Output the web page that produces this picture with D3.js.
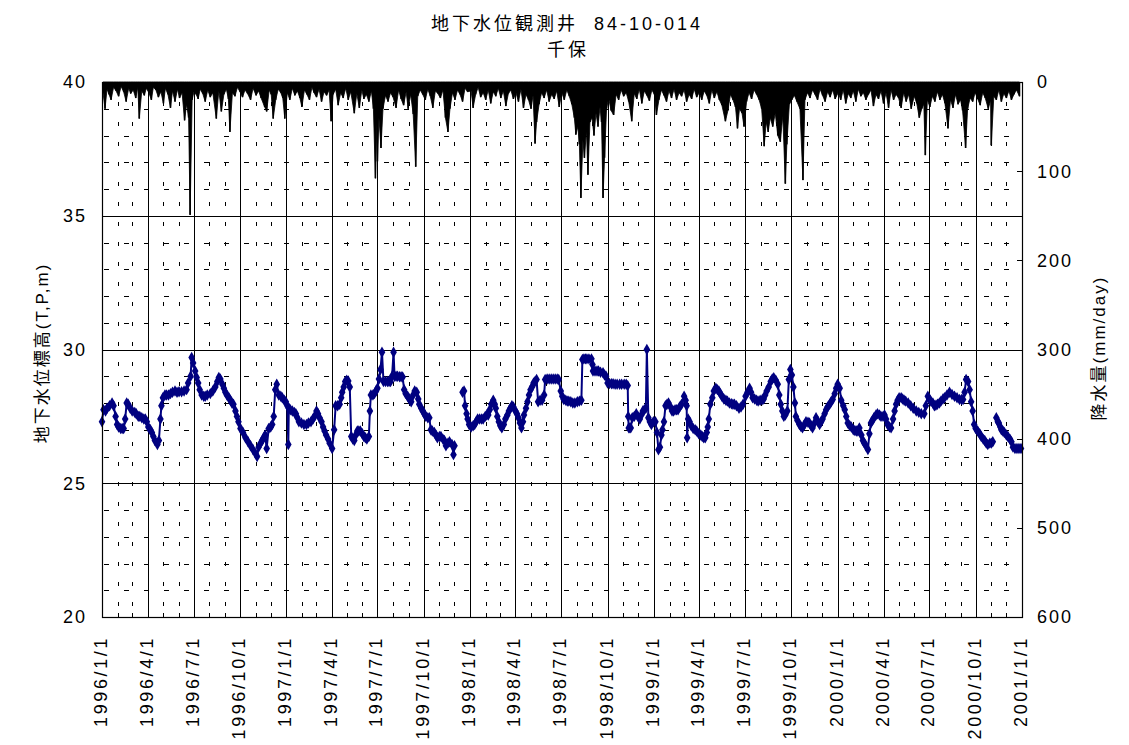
<!DOCTYPE html>
<html>
<head>
<meta charset="utf-8">
<script src="https://cdn.jsdelivr.net/npm/d3@7"></script>
<style>
body { margin: 0; background: #fff; }
svg text { font-family: "Liberation Sans", "Noto Sans CJK JP", sans-serif; fill: #000; }
</style>
</head>
<body>
<svg id="chart" width="1129" height="745"></svg>
<script>
// chart titles
var titleLine1 = "地下水位観測井  84-10-014";
var titleLine2 = "千保";
var leftTitle = "地下水位標高(T,P,m)";
var rightTitle = "降水量(mm/day)";

// axis ticks
var levelTicks = [20, 25, 30, 35, 40];
var rainTicks = [0, 100, 200, 300, 400, 500, 600];

// groundwater level (T.P. m); null = no record
var gw1996 = [
  ["1996-01-01",27.3],["1996-01-04",27.75],["1996-01-08",27.7],["1996-01-11",27.8],["1996-01-16",27.9],["1996-01-21",28.0],
  ["1996-01-24",27.9],["1996-01-28",27.5],["1996-01-31",27.2],["1996-02-03",27.1],["1996-02-07",27.05],["1996-02-10",27.05],
  ["1996-02-13",27.05],["1996-02-16",27.4],["1996-02-19",28.0],["1996-02-22",27.95],["1996-02-26",27.8],["1996-03-01",27.7],
  ["1996-03-06",27.65],["1996-03-09",27.6],["1996-03-13",27.5],["1996-03-16",27.5],["1996-03-20",27.45],["1996-03-24",27.4],
  ["1996-03-27",27.4],["1996-03-30",27.3],["1996-04-02",27.1],["1996-04-06",27.0],["1996-04-09",26.9],["1996-04-12",26.75],
  ["1996-04-15",26.6],["1996-04-20",26.45],["1996-04-23",26.6],["1996-04-26",27.4],["1996-04-28",27.9],["1996-05-01",28.2],
  ["1996-05-05",28.3],["1996-05-08",28.3],["1996-05-12",28.3],["1996-05-16",28.35],["1996-05-20",28.4],["1996-05-25",28.45],
  ["1996-05-29",28.4],["1996-06-02",28.42],["1996-06-07",28.42],["1996-06-12",28.45],["1996-06-17",28.5],["1996-06-20",28.75],
  ["1996-06-25",29.0],["1996-06-27",29.7],["1996-06-30",29.5],["1996-07-04",29.2],["1996-07-07",28.95],["1996-07-10",28.75],
  ["1996-07-13",28.5],["1996-07-17",28.3],["1996-07-21",28.25],["1996-07-24",28.25],["1996-07-28",28.3],["1996-08-03",28.35],
  ["1996-08-08",28.45],["1996-08-13",28.6],["1996-08-17",28.8],["1996-08-20",28.95],["1996-08-23",28.9],["1996-08-27",28.7],
  ["1996-08-30",28.55],["1996-09-02",28.4],["1996-09-05",28.3],["1996-09-09",28.2],["1996-09-12",28.1],["1996-09-15",28.0],
  ["1996-09-18",27.95],["1996-09-22",27.7],["1996-09-25",27.5],["1996-09-28",27.3],["1996-10-02",27.05],["1996-10-07",26.9],
  ["1996-10-12",26.7],["1996-10-17",26.55],["1996-10-22",26.4],["1996-10-27",26.25],["1996-11-01",26.1],["1996-11-04",26.0],
  ["1996-11-07",26.35],["1996-11-11",26.5],["1996-11-14",26.6],["1996-11-17",26.7],["1996-11-20",26.8],["1996-11-23",26.3],
  ["1996-11-27",27.05],["1996-12-01",27.1],["1996-12-04",27.2],["1996-12-07",27.5],["1996-12-10",28.5],["1996-12-13",28.7],
  ["1996-12-17",28.3],["1996-12-21",28.25],["1996-12-24",28.2],["1996-12-28",28.1],["1996-12-31",28.05]
];
var gw1997 = [
  ["1997-01-03",27.9],["1997-01-05",26.45],["1997-01-06",27.8],["1997-01-09",27.75],["1997-01-13",27.7],["1997-01-17",27.65],
  ["1997-01-20",27.6],["1997-01-23",27.45],["1997-01-26",27.3],["1997-01-31",27.25],["1997-02-05",27.2],["1997-02-10",27.2],
  ["1997-02-14",27.25],["1997-02-19",27.3],["1997-02-23",27.4],["1997-02-26",27.5],["1997-03-02",27.7],["1997-03-05",27.6],
  ["1997-03-08",27.45],["1997-03-12",27.3],["1997-03-15",27.1],["1997-03-18",26.95],["1997-03-21",26.8],["1997-03-25",26.65],
  ["1997-03-28",26.5],["1997-04-02",26.3],["1997-04-06",27.0],["1997-04-09",27.9],["1997-04-13",27.9],["1997-04-17",27.95],
  ["1997-04-20",28.2],["1997-04-22",28.4],["1997-04-25",28.6],["1997-04-28",28.8],["1997-05-01",28.85],["1997-05-04",28.82],
  ["1997-05-07",28.6],["1997-05-10",26.75],["1997-05-13",26.65],["1997-05-16",26.6],["1997-05-19",26.8],["1997-05-22",26.95],
  ["1997-05-25",26.95],["1997-05-28",26.95],["1997-06-01",26.85],["1997-06-04",26.75],["1997-06-07",26.7],["1997-06-10",26.65],
  ["1997-06-14",26.75],["1997-06-16",27.7],["1997-06-18",28.3],["1997-06-22",28.3],["1997-06-25",28.35],["1997-06-28",28.45],
  ["1997-07-01",28.55],["1997-07-04",28.9],["1997-07-07",29.25],["1997-07-10",29.9],["1997-07-13",28.8],["1997-07-17",28.8],
  ["1997-07-21",28.8],["1997-07-24",28.8],["1997-07-27",28.8],["1997-07-30",29.0],["1997-08-02",29.9],["1997-08-04",29.0],
  ["1997-08-07",29.0],["1997-08-10",29.0],["1997-08-14",28.98],["1997-08-17",28.98],["1997-08-20",28.97],["1997-08-23",28.5],
  ["1997-08-26",28.35],["1997-08-30",28.25],["1997-09-02",28.15],["1997-09-06",28.05],["1997-09-10",28.3],["1997-09-13",28.45],
  ["1997-09-17",28.4],["1997-09-20",28.15],["1997-09-22",27.95],["1997-09-26",27.8],["1997-09-29",27.7],["1997-10-02",27.6],
  ["1997-10-05",27.5],["1997-10-09",27.45],["1997-10-12",27.45],["1997-10-15",27.0],["1997-10-18",26.95],["1997-10-22",26.9],
  ["1997-10-25",26.8],["1997-10-28",26.7],["1997-11-01",26.75],["1997-11-04",26.75],["1997-11-08",26.65],["1997-11-11",26.6],
  ["1997-11-14",26.4],["1997-11-18",26.5],["1997-11-21",26.55],["1997-11-26",26.45],["1997-11-29",26.07],["1997-12-01",26.4],
  ["1997-12-09",null],
  ["1997-12-17",28.4],["1997-12-20",28.45],["1997-12-22",27.9],["1997-12-25",27.6],["1997-12-27",27.4],["1997-12-30",27.2]
];
var gw1998 = [
  ["1998-01-03",27.1],["1998-01-07",27.15],["1998-01-10",27.2],["1998-01-13",27.3],["1998-01-16",27.4],["1998-01-20",27.4],
  ["1998-01-24",27.4],["1998-01-27",27.4],["1998-01-31",27.5],["1998-02-03",27.55],["1998-02-06",27.55],["1998-02-09",27.75],
  ["1998-02-12",27.95],["1998-02-16",28.1],["1998-02-19",27.95],["1998-02-21",27.8],["1998-02-24",27.5],["1998-02-27",27.3],
  ["1998-03-02",27.15],["1998-03-05",27.07],["1998-03-09",27.2],["1998-03-12",27.4],["1998-03-16",27.55],["1998-03-19",27.7],
  ["1998-03-22",27.8],["1998-03-25",27.9],["1998-03-28",27.85],["1998-04-01",27.7],["1998-04-04",27.6],["1998-04-07",27.45],
  ["1998-04-10",27.25],["1998-04-13",27.07],["1998-04-16",27.3],["1998-04-18",27.55],["1998-04-22",27.8],["1998-04-25",28.05],
  ["1998-04-28",28.3],["1998-05-01",28.5],["1998-05-04",28.6],["1998-05-07",28.75],["1998-05-10",28.8],["1998-05-13",28.88],
  ["1998-05-16",28.05],["1998-05-20",28.1],["1998-05-24",28.1],["1998-05-28",28.3],["1998-05-30",28.88],["1998-06-03",28.9],
  ["1998-06-07",28.9],["1998-06-11",28.9],["1998-06-15",28.9],["1998-06-19",28.9],["1998-06-23",28.9],["1998-06-26",28.88],
  ["1998-06-30",28.45],["1998-07-03",28.25],["1998-07-06",28.13],["1998-07-10",28.1],["1998-07-13",28.07],["1998-07-16",28.07],
  ["1998-07-20",28.05],["1998-07-24",28.0],["1998-07-28",28.0],["1998-08-02",28.05],["1998-08-06",28.07],["1998-08-10",28.1],
  ["1998-08-12",29.63],["1998-08-15",29.65],["1998-08-18",29.65],["1998-08-21",29.65],["1998-08-25",29.65],["1998-08-30",29.65],
  ["1998-09-01",29.44],["1998-09-02",29.2],["1998-09-06",29.2],["1998-09-10",29.2],["1998-09-13",29.2],["1998-09-17",29.15],
  ["1998-09-22",29.13],["1998-09-25",29.05],["1998-09-28",29.0],["1998-10-01",28.75],["1998-10-05",28.73],["1998-10-09",28.72],
  ["1998-10-12",28.72],["1998-10-16",28.7],["1998-10-20",28.7],["1998-10-25",28.7],["1998-10-29",28.7],["1998-11-03",28.7],
  ["1998-11-07",28.7],["1998-11-10",28.65],["1998-11-11",27.5],["1998-11-12",27.07],["1998-11-14",27.07],["1998-11-16",27.07],
  ["1998-11-19",27.45],["1998-11-23",27.5],["1998-11-27",27.6],["1998-11-30",27.5],["1998-12-04",27.4],["1998-12-07",27.55],
  ["1998-12-10",27.7],["1998-12-13",27.75],["1998-12-16",27.8],["1998-12-18",30.0],["1998-12-21",27.45],["1998-12-24",27.3],
  ["1998-12-27",27.2],["1998-12-31",27.3]
];
var gw1999 = [
  ["1999-01-04",27.3],["1999-01-07",26.9],["1999-01-10",26.25],["1999-01-13",26.35],["1999-01-16",26.8],["1999-01-18",27.0],
  ["1999-01-21",27.3],["1999-01-24",27.9],["1999-01-27",27.95],["1999-01-30",28.0],["1999-02-03",27.85],["1999-02-06",27.7],
  ["1999-02-09",27.7],["1999-02-12",27.75],["1999-02-15",27.75],["1999-02-18",27.75],["1999-02-21",27.85],["1999-02-25",27.95],
  ["1999-03-02",28.25],["1999-03-05",28.1],["1999-03-07",27.9],["1999-03-08",26.7],["1999-03-10",27.4],["1999-03-13",27.3],
  ["1999-03-16",27.15],["1999-03-20",27.05],["1999-03-24",27.0],["1999-03-27",26.95],["1999-03-31",26.85],["1999-04-04",26.8],
  ["1999-04-07",26.75],["1999-04-10",26.7],["1999-04-13",26.7],["1999-04-16",26.9],["1999-04-18",27.1],["1999-04-20",27.4],
  ["1999-04-23",27.95],["1999-04-27",28.2],["1999-04-30",28.45],["1999-05-04",28.55],["1999-05-07",28.5],["1999-05-10",28.45],
  ["1999-05-13",28.35],["1999-05-16",28.25],["1999-05-20",28.15],["1999-05-24",28.1],["1999-05-27",28.07],["1999-05-31",28.0],
  ["1999-06-04",27.97],["1999-06-07",27.95],["1999-06-10",27.95],["1999-06-14",27.9],["1999-06-19",27.8],["1999-06-23",27.85],
  ["1999-06-27",27.95],["1999-07-02",28.25],["1999-07-06",28.4],["1999-07-10",28.55],["1999-07-13",28.4],["1999-07-16",28.2],
  ["1999-07-20",28.15],["1999-07-24",28.1],["1999-07-27",28.07],["1999-07-31",28.1],["1999-08-04",28.12],["1999-08-07",28.15],
  ["1999-08-10",28.3],["1999-08-13",28.45],["1999-08-17",28.6],["1999-08-21",28.8],["1999-08-24",28.9],["1999-08-27",28.94],
  ["1999-08-31",28.85],["1999-09-04",28.7],["1999-09-07",28.3],["1999-09-10",27.95],["1999-09-13",27.7],["1999-09-16",27.5],
  ["1999-09-19",27.55],["1999-09-23",27.7],["1999-09-26",28.88],["1999-09-29",29.25],["1999-10-02",29.05],["1999-10-05",28.6],
  ["1999-10-08",28.0],["1999-10-10",27.5],["1999-10-13",27.35],["1999-10-17",27.2],["1999-10-20",27.12],["1999-10-23",27.07],
  ["1999-10-27",27.2],["1999-10-30",27.3],["1999-11-03",27.28],["1999-11-06",27.25],["1999-11-09",27.15],["1999-11-12",27.07],
  ["1999-11-16",27.25],["1999-11-19",27.45],["1999-11-23",27.3],["1999-11-26",27.2],["1999-11-29",27.3],["1999-12-02",27.4],
  ["1999-12-06",27.6],["1999-12-09",27.75],["1999-12-12",27.85],["1999-12-16",27.95],["1999-12-19",28.05],["1999-12-22",28.13],
  ["1999-12-26",28.35],["1999-12-29",28.55]
];
var gw2000 = [
  ["2000-01-01",28.7],["2000-01-05",28.55],["2000-01-08",28.1],["2000-01-12",27.9],["2000-01-15",27.75],["2000-01-18",27.5],
  ["2000-01-21",27.25],["2000-01-25",27.15],["2000-01-28",27.1],["2000-02-01",27.0],["2000-02-04",26.97],["2000-02-07",26.95],
  ["2000-02-10",26.95],["2000-02-13",27.07],["2000-02-17",26.8],["2000-02-20",26.6],["2000-02-23",26.5],["2000-02-26",26.4],
  ["2000-03-01",26.26],["2000-03-04",26.85],["2000-03-07",27.25],["2000-03-10",27.35],["2000-03-13",27.45],["2000-03-17",27.55],
  ["2000-03-20",27.6],["2000-03-24",27.55],["2000-03-27",27.5],["2000-03-31",27.5],["2000-04-03",27.55],["2000-04-06",27.4],
  ["2000-04-09",27.2],["2000-04-13",27.1],["2000-04-16",27.07],["2000-04-20",27.4],["2000-04-23",27.7],["2000-04-26",27.95],
  ["2000-04-29",28.1],["2000-05-02",28.2],["2000-05-06",28.2],["2000-05-09",28.15],["2000-05-12",28.1],["2000-05-15",28.07],
  ["2000-05-20",28.0],["2000-05-25",27.9],["2000-05-30",27.8],["2000-06-05",27.7],["2000-06-10",27.65],["2000-06-15",27.6],
  ["2000-06-21",27.6],["2000-06-24",27.9],["2000-06-28",28.25],["2000-07-01",28.15],["2000-07-04",28.07],["2000-07-08",28.0],
  ["2000-07-11",27.9],["2000-07-14",27.92],["2000-07-17",27.95],["2000-07-21",28.0],["2000-07-24",28.07],["2000-07-28",28.15],
  ["2000-07-31",28.2],["2000-08-05",28.3],["2000-08-10",28.4],["2000-08-15",28.32],["2000-08-20",28.25],["2000-08-25",28.2],
  ["2000-08-30",28.13],["2000-09-03",28.13],["2000-09-06",28.13],["2000-09-09",28.4],["2000-09-12",28.88],["2000-09-16",28.8],
  ["2000-09-19",28.5],["2000-09-22",28.05],["2000-09-25",27.7],["2000-09-28",27.2],["2000-10-01",27.05],["2000-10-05",26.95],
  ["2000-10-09",26.85],["2000-10-12",26.75],["2000-10-16",26.65],["2000-10-19",26.6],["2000-10-22",26.5],["2000-10-25",26.45],
  ["2000-10-29",26.5],["2000-11-01",26.5],["2000-11-04",26.55],
  ["2000-11-08",null],
  ["2000-11-11",27.45],["2000-11-14",27.3],["2000-11-16",27.25],["2000-11-19",27.1],["2000-11-21",27.0],["2000-11-24",26.95],
  ["2000-11-27",26.9],["2000-12-01",26.8],["2000-12-04",26.75],["2000-12-08",26.65],["2000-12-11",26.55],["2000-12-14",26.35],
  ["2000-12-18",26.3],["2000-12-22",26.3],["2000-12-26",26.3],["2000-12-30",26.3]
];

// daily rainfall (mm/day): [month, day, mm]
var rain1996 = [
  [1,3,12],[1,7,30],[1,11,8],[1,15,14],[1,19,20],[1,24,6],[1,29,10],[2,3,16],[2,8,5],[2,13,11],[2,18,22],[2,23,7],[2,27,13],
  [3,3,9],[3,8,18],[3,12,6],[3,15,41],[3,20,10],[3,25,15],[3,29,7],[4,3,12],[4,8,20],[4,12,6],[4,17,9],[4,22,17],[4,27,11],
  [5,2,24],[5,6,7],[5,11,14],[5,16,29],[5,20,10],[5,25,22],[5,30,8],[6,3,18],[6,8,12],[6,13,43],[6,17,25],[6,21,40],[6,24,149],[6,28,20],
  [7,2,10],[7,6,14],[7,10,19],[7,14,8],[7,19,13],[7,24,22],[7,29,9],[8,3,17],[8,8,12],[8,15,41],[8,20,10],[8,25,33],[8,30,14],
  [9,4,8],[9,8,19],[9,11,56],[9,16,12],[9,21,16],[9,26,6],[10,1,11],[10,6,17],[10,11,9],[10,16,13],[10,22,20],[10,27,7],
  [11,2,15],[11,7,10],[11,12,18],[11,19,28],[11,23,33],[11,28,9],[12,2,14],[12,6,41],[12,11,20],[12,16,8],[12,21,12],[12,25,18],[12,29,41]
];
var rain1997 = [
  [1,3,12],[1,8,20],[1,13,7],[1,18,15],[1,23,10],[1,28,18],[2,1,28],[2,6,9],[2,11,14],[2,16,20],[2,21,6],[2,25,12],
  [3,2,17],[3,7,8],[3,12,22],[3,17,11],[3,22,15],[3,27,9],[3,31,44],[4,4,14],[4,9,8],[4,14,26],[4,19,12],[4,24,18],[4,29,7],
  [5,4,20],[5,9,11],[5,16,35],[5,21,13],[5,26,29],[5,31,9],[6,4,19],[6,9,14],[6,14,22],[6,19,10],[6,23,30],[6,27,108],[6,30,45],
  [7,1,89],[7,4,40],[7,8,74],[7,12,30],[7,17,15],[7,22,22],[7,27,12],[8,1,17],[8,7,29],[8,12,9],[8,17,19],[8,22,26],[8,27,11],[8,31,30],
  [9,5,14],[9,10,36],[9,15,95],[9,19,16],[9,24,9],[9,29,14],[10,4,20],[10,9,8],[10,14,16],[10,19,29],[10,24,10],[10,29,13],
  [11,3,18],[11,8,9],[11,13,40],[11,18,56],[11,22,30],[11,27,12],[12,2,20],[12,7,9],[12,12,14],[12,17,22],[12,22,7],[12,27,11]
];
var rain1998 = [
  [1,3,10],[1,7,29],[1,12,14],[1,17,6],[1,22,17],[1,27,12],[2,1,20],[2,6,9],[2,11,24],[2,16,11],[2,21,16],[2,26,7],
  [3,3,18],[3,8,10],[3,13,27],[3,18,13],[3,23,9],[3,28,19],[4,2,12],[4,7,22],[4,12,8],[4,17,29],[4,22,14],[4,27,20],
  [5,2,30],[5,6,15],[5,10,69],[5,13,45],[5,18,25],[5,23,12],[5,28,18],[6,2,9],[6,7,22],[6,12,14],[6,17,19],[6,22,10],[6,27,28],
  [7,2,12],[7,7,20],[7,12,9],[7,17,16],[7,22,25],[7,27,40],[7,30,59],
  [8,3,50],[8,6,70],[8,9,130],[8,13,65],[8,16,85],[8,20,55],[8,23,104],[8,27,45],[8,31,40],
  [9,4,60],[9,8,35],[9,12,50],[9,16,28],[9,19,45],[9,22,130],[9,25,85],[9,29,30],
  [10,3,18],[10,8,32],[10,13,37],[10,18,14],[10,23,20],[10,28,9],[11,2,16],[11,7,12],[11,12,22],[11,18,44],[11,23,13],[11,28,19],
  [12,3,8],[12,8,24],[12,13,10],[12,18,15],[12,23,21],[12,28,9]
];
var rain1999 = [
  [1,2,14],[1,6,37],[1,11,20],[1,16,9],[1,21,15],[1,26,22],[1,31,10],[2,5,18],[2,10,8],[2,15,20],[2,20,12],[2,25,16],
  [3,2,9],[3,7,22],[3,12,14],[3,17,19],[3,22,8],[3,27,17],[4,1,12],[4,6,20],[4,11,10],[4,16,15],[4,21,24],[4,26,9],
  [5,1,18],[5,6,11],[5,11,20],[5,16,26],[5,23,44],[5,28,32],[6,2,14],[6,7,20],[6,12,28],[6,16,52],[6,20,30],[6,25,35],[6,29,50],
  [7,4,22],[7,9,12],[7,14,19],[7,19,9],[7,24,14],[7,29,20],[8,3,30],[8,8,72],[8,12,45],[8,16,56],[8,20,40],[8,25,50],[8,30,35],
  [9,4,60],[9,9,67],[9,14,38],[9,19,114],[9,22,70],[9,27,25],[10,2,20],[10,7,15],[10,12,22],[10,18,30],[10,24,110],[10,28,20],
  [11,2,12],[11,7,18],[11,12,9],[11,17,14],[11,22,20],[11,27,8],[12,2,15],[12,7,22],[12,12,11],[12,17,17],[12,22,9],[12,27,19]
];
var rain2000 = [
  [1,2,12],[1,7,20],[1,12,9],[1,17,24],[1,22,13],[1,27,18],[2,1,10],[2,6,22],[2,11,8],[2,16,16],[2,21,12],[2,26,20],
  [3,2,14],[3,7,9],[3,12,27],[3,17,14],[3,22,19],[3,27,10],[4,1,24],[4,6,12],[4,11,29],[4,16,9],[4,21,20],[4,26,14],
  [5,1,18],[5,6,29],[5,11,12],[5,16,22],[5,21,14],[5,26,30],[6,1,16],[6,6,24],[6,11,40],[6,16,30],[6,20,25],[6,23,82],[6,27,20],
  [7,2,28],[7,7,16],[7,12,22],[7,17,11],[7,22,20],[7,27,14],[8,1,24],[8,7,52],[8,12,20],[8,17,29],[8,22,14],[8,27,25],
  [9,1,20],[9,5,32],[9,11,74],[9,15,30],[9,20,18],[9,25,22],[9,30,12],[10,5,19],[10,10,26],[10,15,12],[10,20,18],[10,26,30],[10,31,20],
  [11,1,71],[11,6,16],[11,11,20],[11,16,9],[11,21,22],[11,26,13],[12,1,18],[12,6,10],[12,11,20],[12,16,14],[12,21,9],[12,27,16]
];

(function(){
  var parseDate = d3.timeParse("%Y-%m-%d");

  // combine the per-year lists
  var level = [].concat(gw1996, gw1997, gw1998, gw1999, gw2000).map(function(d){
    return { date: parseDate(d[0]), value: d[1] };
  });
  var rainYears = { 1996: rain1996, 1997: rain1997, 1998: rain1998, 1999: rain1999, 2000: rain2000 };
  var rain = [];
  Object.keys(rainYears).forEach(function(y){
    rainYears[y].forEach(function(r){
      rain.push({ date: new Date(+y, r[0] - 1, r[1]), mm: r[2] });
    });
  });

  var svg = d3.select('#chart');
  var pLeft = 102, pRight = 1022, pTop = 82, pBottom = 617;

  var x = d3.scaleTime()
    .domain([new Date(1996, 0, 1), new Date(2001, 0, 1)])
    .range([pLeft, pRight]);
  var yL = d3.scaleLinear().domain([20, 40]).range([pBottom, pTop]);
  var yR = d3.scaleLinear().domain([0, 600]).range([pTop, pBottom]);

  var quarters = x.ticks(d3.timeMonth.every(3));
  var months = x.ticks(d3.timeMonth.every(1)).filter(function(d){ return d.getMonth() % 3 !== 0; });

  var grid = svg.append('g');

  // minor dashed grid
  grid.selectAll('line.hminor')
    .data(d3.range(21, 40).filter(function(v){ return v % 5 !== 0; }))
    .enter().append('line')
    .attr('x1', pLeft).attr('x2', pRight)
    .attr('y1', function(d){ return Math.round(yL(d)) + 0.5; })
    .attr('y2', function(d){ return Math.round(yL(d)) + 0.5; })
    .attr('stroke', '#000').attr('stroke-width', 1)
    .attr('stroke-dasharray', '5,15').attr('stroke-dashoffset', -2);

  grid.selectAll('line.vminor')
    .data(months)
    .enter().append('line')
    .attr('x1', function(d){ return Math.round(x(d)) + 0.5; })
    .attr('x2', function(d){ return Math.round(x(d)) + 0.5; })
    .attr('y1', pTop).attr('y2', pBottom)
    .attr('stroke', '#000').attr('stroke-width', 1)
    .attr('stroke-dasharray', '4,16').attr('stroke-dashoffset', -20);

  // major grid
  grid.selectAll('line.hmajor')
    .data([25, 30, 35])
    .enter().append('line')
    .attr('x1', pLeft).attr('x2', pRight)
    .attr('y1', function(d){ return Math.round(yL(d)) + 0.5; })
    .attr('y2', function(d){ return Math.round(yL(d)) + 0.5; })
    .attr('stroke', '#000').attr('stroke-width', 1);

  grid.selectAll('line.vmajor')
    .data(quarters)
    .enter().append('line')
    .attr('x1', function(d){ return Math.round(x(d)) + 0.5; })
    .attr('x2', function(d){ return Math.round(x(d)) + 0.5; })
    .attr('y1', pTop).attr('y2', pBottom)
    .attr('stroke', '#000').attr('stroke-width', 1);

  // rainfall hanging from the top: filled profile + a bar per day
  var rainArea = d3.area()
    .x(function(d){ return x(d.date); })
    .y0(yR(0))
    .y1(function(d){ return yR(d.mm); });

  svg.append('path')
    .datum(rain)
    .attr('d', rainArea)
    .attr('fill', '#000')
    .attr('stroke', '#000')
    .attr('stroke-width', 0.8)
    .attr('stroke-linejoin', 'miter');

  svg.append('g').selectAll('rect')
    .data(rain)
    .enter().append('rect')
    .attr('x', function(d){ return x(d.date) - 0.8; })
    .attr('width', 1.6)
    .attr('y', yR(0))
    .attr('height', function(d){ return yR(d.mm) - yR(0); })
    .attr('fill', '#000');

  // groundwater line + markers
  var line = d3.line()
    .defined(function(d){ return d.value !== null; })
    .x(function(d){ return x(d.date); })
    .y(function(d){ return yL(d.value); });

  svg.append('path')
    .datum(level)
    .attr('d', line)
    .attr('fill', 'none')
    .attr('stroke', '#000080')
    .attr('stroke-width', 2);

  svg.append('g').selectAll('path')
    .data(level.filter(function(d){ return d.value !== null; }))
    .enter().append('path')
    .attr('d', d3.symbol().type(d3.symbolDiamond).size(38))
    .attr('transform', function(d){ return 'translate(' + x(d.date) + ',' + yL(d.value) + ')'; })
    .attr('fill', '#000080');

  // frame
  svg.append('rect')
    .attr('x', pLeft + 0.5).attr('y', pTop + 0.5)
    .attr('width', pRight - pLeft).attr('height', pBottom - pTop)
    .attr('fill', 'none').attr('stroke', '#000').attr('stroke-width', 1.2);

  // bottom minor ticks (inside)
  svg.append('g').selectAll('line')
    .data(months)
    .enter().append('line')
    .attr('x1', function(d){ return Math.round(x(d)) + 0.5; })
    .attr('x2', function(d){ return Math.round(x(d)) + 0.5; })
    .attr('y1', pBottom).attr('y2', pBottom - 4)
    .attr('stroke', '#000');

  // right ticks (inside)
  svg.append('g').selectAll('line')
    .data(rainTicks)
    .enter().append('line')
    .attr('x1', pRight - 5).attr('x2', pRight)
    .attr('y1', function(d){ return Math.round(yR(d)) + 0.5; })
    .attr('y2', function(d){ return Math.round(yR(d)) + 0.5; })
    .attr('stroke', '#000');

  // tick labels
  svg.append('g').selectAll('text')
    .data(levelTicks)
    .enter().append('text')
    .attr('x', 87).attr('y', function(d){ return yL(d); })
    .attr('dy', '0.36em')
    .attr('text-anchor', 'end')
    .style('font-size', '18px').style('letter-spacing', '2px')
    .text(function(d){ return d; });

  svg.append('g').selectAll('text')
    .data(rainTicks)
    .enter().append('text')
    .attr('x', 1037).attr('y', function(d){ return yR(d); })
    .attr('dy', '0.36em')
    .attr('text-anchor', 'start')
    .style('font-size', '18px').style('letter-spacing', '2px')
    .text(function(d){ return d; });

  var fmtQ = function(d){ return d.getFullYear() + '/' + (d.getMonth() + 1) + '/' + d.getDate(); };
  svg.append('g').selectAll('text')
    .data(quarters)
    .enter().append('text')
    .attr('transform', function(d){ return 'translate(' + (x(d) + 5) + ',636) rotate(-90)'; })
    .attr('text-anchor', 'end')
    .style('font-size', '18px').style('letter-spacing', '2.6px')
    .text(fmtQ);

  // titles
  svg.append('text')
    .attr('x', 567).attr('y', 30)
    .attr('text-anchor', 'middle')
    .style('font-size', '18px').style('letter-spacing', '3px')
    .style('white-space', 'pre')
    .text(titleLine1);
  svg.append('text')
    .attr('x', 568).attr('y', 56)
    .attr('text-anchor', 'middle')
    .style('font-size', '18px').style('letter-spacing', '3px')
    .text(titleLine2);

  svg.append('text')
    .attr('transform', 'translate(42,353) rotate(-90)')
    .attr('text-anchor', 'middle').attr('dy', '0.36em')
    .style('font-size', '17px').style('letter-spacing', '2px')
    .text(leftTitle);
  svg.append('text')
    .attr('transform', 'translate(1099,348) rotate(-90)')
    .attr('text-anchor', 'middle').attr('dy', '0.36em')
    .style('font-size', '17px').style('letter-spacing', '2px')
    .text(rightTitle);
})();
</script>
</body>
</html>
